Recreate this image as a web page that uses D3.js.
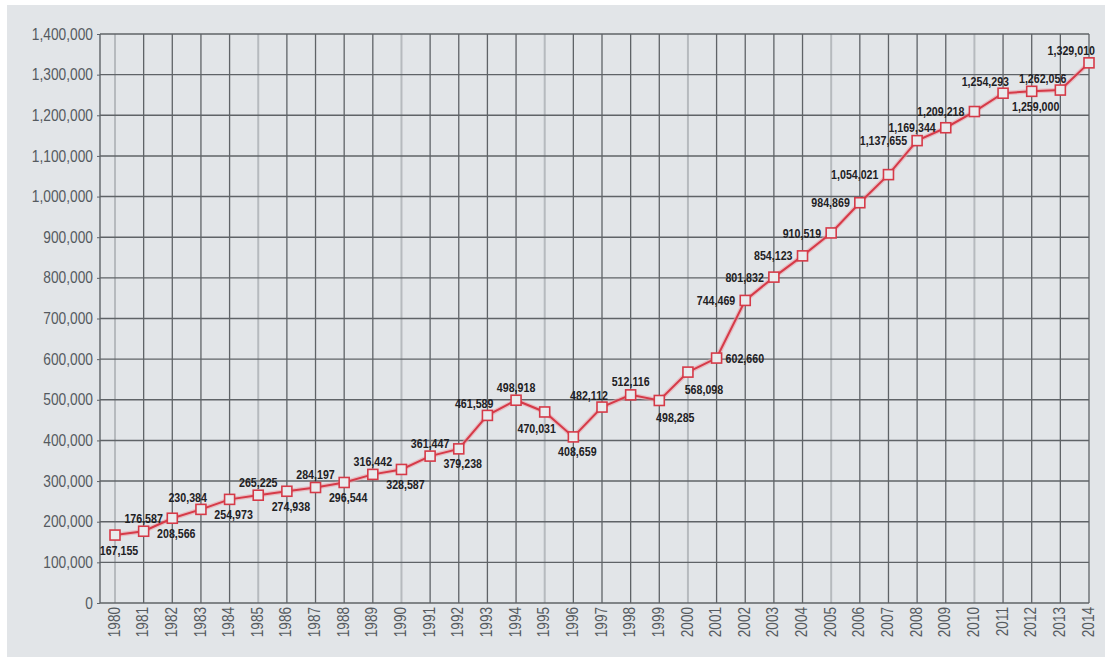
<!DOCTYPE html>
<html>
<head>
<meta charset="utf-8">
<script src="https://cdnjs.cloudflare.com/ajax/libs/d3/7.8.5/d3.min.js"></script>
<style>
  body { margin: 0; background: #ffffff; }
  svg { display: block; }
  .ylab text, .xlab text { fill: #555a5f; font-family: "Liberation Sans", Arial, sans-serif; }
  .vlabel { fill: #1e2124; font-family: "Liberation Sans", Arial, sans-serif; font-weight: bold; font-size: 13px; }
</style>
</head>
<body>
<div id="chart"></div>
<script>
// 1. data --------------------------------------------------
var years = d3.range(1980, 2015);
var values = [167155, 176587, 208566, 230384, 254973, 265225, 274938, 284197, 296544, 316442,
              328587, 361447, 379238, 461589, 498918, 470031, 408659, 482112, 512116, 498285,
              568098, 602660, 744469, 801832, 854123, 910519, 984869, 1054021, 1137655, 1169344,
              1209218, 1254293, 1259000, 1262056, 1329010];
// where each value label sits next to its marker
var labelSide = ["b", "a", "b", "al", "b", "a", "b", "a", "b", "a",
                 "b", "a", "b", "al", "a", "bl", "b", "al", "a", "br",
                 "br", "r", "l", "l", "l", "l", "l", "l", "l", "l",
                 "l", "al", "b", "al", "al"];
var yTicks = d3.range(0, 1400001, 100000);

var data = years.map((y, i) => ({year: y, value: values[i], side: labelSide[i]}));

// 2. svg set up -------------------------------------------
var svgWidth = 1109;
var svgHeight = 660;

var svg = d3.select("#chart")
  .append("svg")
  .attr("width", svgWidth)
  .attr("height", svgHeight);

// grey panel behind everything
svg.append("rect")
  .attr("x", 7).attr("y", 5)
  .attr("width", 1098).attr("height", 652)
  .attr("fill", "#e2e5e8");

var plotLeft = 100, plotRight = 1089, plotTop = 34, plotBottom = 603;

var xScale = d3.scaleLinear()
  .domain([1980, 2014])
  .range([115, plotRight]);

var yScale = d3.scaleLinear()
  .domain([0, 1400000])
  .range([plotBottom, plotTop]);

// 3. grid ----------------------------------------------------
var grid = svg.append("g");

grid.selectAll(".vgrid").data(years).enter().append("line")
  .attr("x1", d => xScale(d)).attr("x2", d => xScale(d))
  .attr("y1", plotTop).attr("y2", plotBottom)
  .attr("stroke", d => d % 5 === 0 ? "#b6babe" : "#5f6367")
  .attr("stroke-width", d => d % 5 === 0 ? 2 : 1.3);

grid.selectAll(".hgrid").data(yTicks).enter().append("line")
  .attr("x1", plotLeft).attr("x2", plotRight)
  .attr("y1", d => yScale(d)).attr("y2", d => yScale(d))
  .attr("stroke", "#5f6367")
  .attr("stroke-width", 1.4);

// left axis line
grid.append("line")
  .attr("x1", plotLeft).attr("x2", plotLeft)
  .attr("y1", plotTop).attr("y2", plotBottom)
  .attr("stroke", "#5f6367").attr("stroke-width", 1.4);

// 4. axes labels ---------------------------------------------
var yAxis = d3.axisLeft(yScale)
  .tickValues(yTicks)
  .tickSize(3)
  .tickPadding(4)
  .tickFormat(d3.format(","));

var yg = svg.append("g")
  .attr("class", "ylab")
  .attr("transform", `translate(${plotLeft}, 0)`)
  .call(yAxis);
yg.select(".domain").remove();
yg.attr("font-family", null);
yg.selectAll("line").attr("stroke", "#5f6367");
// narrow the labels the way the condensed original font looks
yg.selectAll("text")
  .style("font-size", "16px")
  .attr("x", 0)
  .attr("transform", "translate(-7,0) scale(0.86,1)");

var xg = svg.append("g").attr("class", "xlab");
xg.selectAll("text").data(years).enter().append("text")
  .attr("transform", d => `translate(${xScale(d) - 1}, 607) rotate(-90) scale(0.85,1)`)
  .attr("dy", "0.35em")
  .attr("text-anchor", "end")
  .style("font-size", "16px")
  .text(d => d);

// 5. line + markers ------------------------------------------
var line = d3.line()
  .x(d => xScale(d.year))
  .y(d => yScale(d.value));

svg.append("path")
  .datum(data)
  .attr("d", line)
  .attr("fill", "none")
  .attr("stroke", "#eaa2aa")
  .attr("stroke-width", 4.5)
  .attr("opacity", 0.6);

svg.append("path")
  .datum(data)
  .attr("d", line)
  .attr("fill", "none")
  .attr("stroke", "#d63a48")
  .attr("stroke-width", 2);

svg.append("g").selectAll("rect").data(data).enter().append("rect")
  .attr("x", d => xScale(d.year) - 5)
  .attr("y", d => yScale(d.value) - 5)
  .attr("width", 10).attr("height", 10)
  .attr("fill", "#e9ebed")
  .attr("stroke", "#d63a48")
  .attr("stroke-width", 1.6);

// 6. value labels ---------------------------------------------
var offsets = {
  a:  {dx: 0,   dy: -13, anchor: "middle"},
  b:  {dx: 4,   dy: 15,  anchor: "middle"},
  al: {dx: 6,   dy: -12, anchor: "end"},
  bl: {dx: -8,  dy: 16,  anchor: "middle"},
  br: {dx: 16,  dy: 17,  anchor: "middle"},
  l:  {dx: -10, dy: 0,   anchor: "end"},
  r:  {dx: 9,   dy: 0,   anchor: "start"}
};

svg.append("g").selectAll("text").data(data).enter().append("text")
  .attr("class", "vlabel")
  .attr("transform", d => `translate(${xScale(d.year) + offsets[d.side].dx}, ${yScale(d.value) + offsets[d.side].dy}) scale(0.82,1)`)
  .attr("dy", "0.35em")
  .attr("text-anchor", d => offsets[d.side].anchor)
  .text(d => d3.format(",")(d.value));
</script>
</body>
</html>
